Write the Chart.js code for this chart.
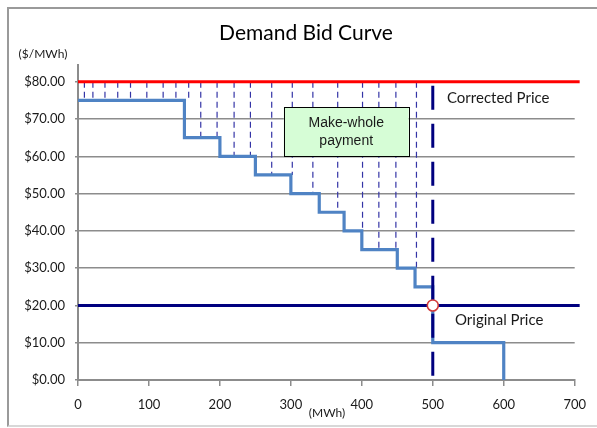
<!DOCTYPE html>
<html>
<head>
<meta charset="utf-8">
<title>Demand Bid Curve</title>
<script src="https://cdn.jsdelivr.net/npm/chart.js@4/dist/chart.umd.min.js"></script>
<style>
  body { margin: 0; background: #fff; }
  #wrap { position: relative; width: 597px; height: 428px; overflow: hidden; }
  #frame {
    position: absolute; left: 7px; top: 7px; width: 600px; height: 416px;
    border-left: 2px solid #9a9a9a; border-top: 2px solid #9a9a9a; border-bottom: 2px solid #d8d8d8;
  }
  #curva { position: absolute; left: 0; top: 0; }
</style>
</head>
<body>
<div id="wrap">
  <div id="frame"></div>
  <canvas id="curva" width="597" height="428"></canvas>
</div>
<script>
// bloques de la oferta: inicio de cada bloque (MWh) y su precio ($/MWh)
var bloqueMW = [0, 150, 200, 250, 300, 340, 375, 400, 450, 475, 500, 600];
var bloquePrecio = [75, 65, 60, 55, 50, 45, 40, 35, 30, 25, 10, 0];

var precioCorregido = 80;
var precioOriginal = 20;
var mwDespachado = 500;

// lineas punteadas del pago compensatorio (posicion y precio donde terminan)
var rayasMW = [9, 21, 38, 56, 74, 97, 120, 138, 156, 173, 196, 220, 243, 273, 302, 331, 366, 401, 424, 448, 477];
var rayasHasta = [75, 75, 75, 75, 75, 75, 75, 75, 75, 65, 65, 60, 60, 55, 55, 50, 45, 40, 35, 35, 30];

var ticksX = [0, 100, 200, 300, 400, 500, 600, 700];
var ticksY = [0, 10, 20, 30, 40, 50, 60, 70, 80];

var fuente = "Lato, 'Open Sans', sans-serif";

var curva = [];
for (var i = 0; i < bloqueMW.length; i++) {
  curva.push({ x: bloqueMW[i], y: bloquePrecio[i] });
}

var datasets = [];

// pago compensatorio: rayas finas desde el precio corregido hasta la curva
for (var j = 0; j < rayasMW.length; j++) {
  datasets.push({
    data: [{ x: rayasMW[j], y: precioCorregido }, { x: rayasMW[j], y: rayasHasta[j] }],
    borderColor: "#3434a6",
    borderWidth: 1.2,
    borderDash: [6, 4],
    pointRadius: 0,
    order: 5,
  });
}

datasets.push({
  label: "Oferta",
  data: curva,
  stepped: "before",
  borderColor: "#4f83c4",
  borderWidth: 3.2,
  pointRadius: 0,
  order: 4,
});

datasets.push({
  label: "Corrected Price",
  data: [{ x: 0, y: precioCorregido }, { x: 707, y: precioCorregido }],
  borderColor: "#ff0000",
  borderWidth: 3,
  pointRadius: 0,
  clip: false,
  order: 3,
});

datasets.push({
  label: "Original Price",
  data: [{ x: 0, y: precioOriginal }, { x: 707, y: precioOriginal }],
  borderColor: "#00007f",
  borderWidth: 3,
  pointRadius: 0,
  clip: false,
  order: 3,
});

datasets.push({
  data: [{ x: mwDespachado, y: precioCorregido }, { x: mwDespachado, y: 0 }],
  borderColor: "#00007f",
  borderWidth: 3,
  borderDash: [24, 14],
  borderDashOffset: 34,
  pointRadius: 0,
  order: 2,
});

datasets.push({
  data: [{ x: mwDespachado, y: precioOriginal }],
  showLine: false,
  pointRadius: 5.5,
  pointBackgroundColor: "#ffffff",
  pointBorderColor: "#d23a3a",
  pointBorderWidth: 1.6,
  order: 1,
});

// titulo, unidades, etiquetas y recuadro del pago
var textos = {
  id: "textos",
  afterDatasetsDraw: function (chart) {
    var ctx = chart.ctx;
    var x = chart.scales.x;
    var y = chart.scales.y;
    ctx.save();

    var bx1 = x.getPixelForValue(290), bx2 = x.getPixelForValue(466);
    var by1 = y.getPixelForValue(73.2), by2 = y.getPixelForValue(60);
    ctx.fillStyle = "#d6fdd6";
    ctx.fillRect(bx1, by1, bx2 - bx1, by2 - by1);
    ctx.strokeStyle = "#000";
    ctx.lineWidth = 1;
    ctx.strokeRect(Math.round(bx1) + 0.5, Math.round(by1) + 0.5, Math.round(bx2 - bx1), Math.round(by2 - by1));
    ctx.fillStyle = "#1a1a1a";
    ctx.font = "14px 'Liberation Sans', Arial, sans-serif";
    ctx.textAlign = "center";
    ctx.textBaseline = "middle";
    ctx.fillText("Make-whole", (bx1 + bx2) / 2, by1 + 16);
    ctx.fillText("payment", (bx1 + bx2) / 2, by1 + 34);

    ctx.fillStyle = "#000";
    ctx.font = "21px " + fuente;
    ctx.textBaseline = "alphabetic";
    ctx.fillText("Demand Bid Curve", 306, 40);

    ctx.fillStyle = "#1a1a1a";
    ctx.font = "12px " + fuente;
    ctx.textBaseline = "middle";
    ctx.fillText("($/MWh)", 43, 54);
    ctx.fillText("(MWh)", 327, 413);

    ctx.font = "15px " + fuente;
    ctx.textAlign = "left";
    ctx.fillText("Corrected Price", 447, 98);
    ctx.fillText("Original Price", 455, 320);
    ctx.restore();
  },
};

var ctx = document.getElementById("curva").getContext("2d");
var myChart = new Chart(ctx, {
  type: "line",
  data: { datasets: datasets },
  plugins: [textos],
  options: {
    responsive: false,
    animation: false,
    layout: { padding: { top: 65, right: 21, left: 0, bottom: 0 } },
    plugins: { legend: { display: false }, tooltip: { enabled: false } },
    scales: {
      x: {
        type: "linear",
        min: 0,
        max: 700,
        afterBuildTicks: function (scale) {
          scale.ticks = ticksX.map(function (v) { return { value: v }; });
        },
        afterFit: function (scale) { scale.height = 48; },
        grid: { drawOnChartArea: false, color: "#8c8c8c", lineWidth: 1.5, tickLength: 6 },
        border: { color: "#8c8c8c", width: 2 },
        ticks: { color: "#1a1a1a", font: { family: fuente, size: 13 }, padding: 11, maxRotation: 0 },
      },
      y: {
        type: "linear",
        min: 0,
        max: 84.5,
        afterBuildTicks: function (scale) {
          scale.ticks = ticksY.map(function (v) { return { value: v }; });
        },
        afterFit: function (scale) { scale.width = 78; },
        grid: { color: "#8c8c8c", lineWidth: 1.5, tickLength: 3 },
        border: { color: "#8c8c8c", width: 2 },
        ticks: {
          color: "#1a1a1a",
          font: { family: fuente, size: 13 },
          padding: 10,
          callback: function (v) { return "$" + Number(v).toFixed(2); },
        },
      },
    },
  },
});
</script>
</body>
</html>
